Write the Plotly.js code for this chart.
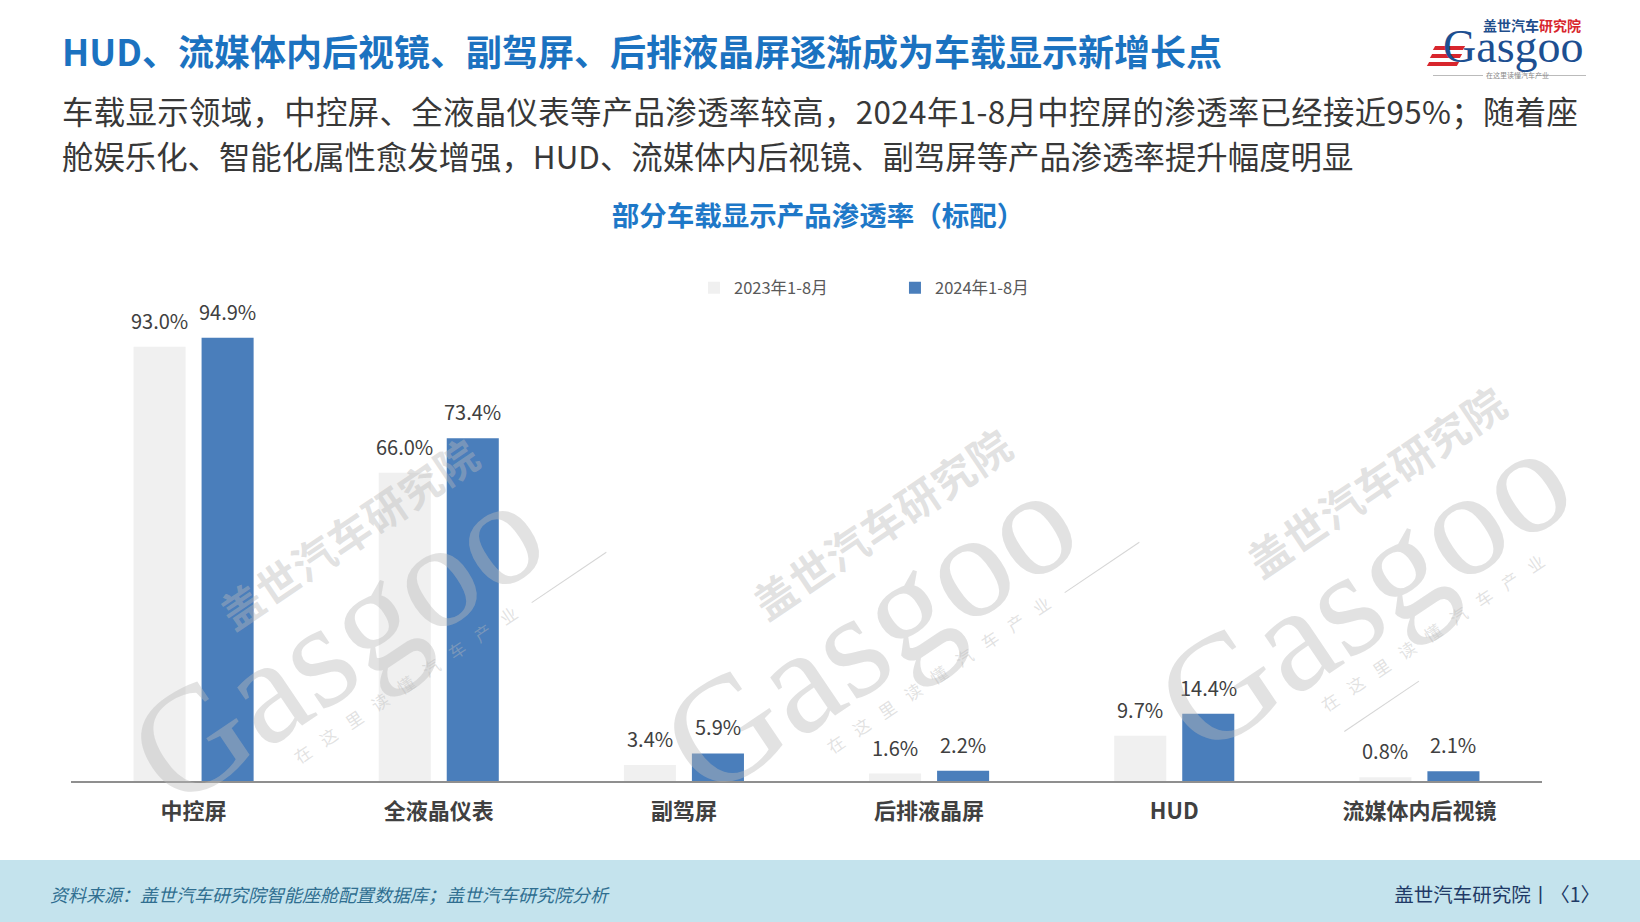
<!DOCTYPE html>
<html><head><meta charset="utf-8">
<script src="https://cdn.plot.ly/plotly-3.0.1.min.js"></script>
<style>
html,body{margin:0;padding:0;background:#fff;width:1640px;height:922px;overflow:hidden;font-family:"Noto Sans CJK SC","Noto Sans",sans-serif;}
#chart{position:absolute;left:0;top:0;width:1640px;height:922px;}
.abs{position:absolute;white-space:nowrap;}
.wm{position:absolute;transform:translate(-50%,-50%) rotate(-34deg);color:rgba(185,185,185,0.42);pointer-events:none;text-align:left;}
.wm .cn{font-family:"Noto Sans CJK SC";font-weight:700;font-size:42px;line-height:46px;padding-left:150px;letter-spacing:1px;}
.wm .en{font-family:"Liberation Serif","DejaVu Serif",serif;font-size:150px;line-height:120px;}
.wm .tg{font-family:"Noto Sans CJK SC";font-size:17px;line-height:30px;letter-spacing:14px;padding-left:130px;}
.wm .tg span{display:inline-block;width:90px;height:0;border-top:1.5px solid rgba(185,185,185,0.6);vertical-align:middle;margin-left:4px;}
</style></head><body>
<div id="chart"></div>

<div class="wm" style="left:350px;top:622px;"><div class="cn">盖世汽车研究院</div><div class="en">Gasgoo</div><div class="tg">在这里读懂汽车产业<span></span></div></div>
<div class="wm" style="left:883px;top:612px;"><div class="cn">盖世汽车研究院</div><div class="en">Gasgoo</div><div class="tg">在这里读懂汽车产业<span></span></div></div>
<div class="wm" style="left:1367px;top:595px;"><div class="cn">盖世汽车研究院</div><div class="en">Gasgoo</div><div class="tg">在这里读懂汽车产业<span></span></div></div>

<div class="abs" style="left:62px;top:28px;font-size:36px;font-weight:700;color:#1b72c0;line-height:44px;">HUD、流媒体内后视镜、副驾屏、后排液晶屏逐渐成为车载显示新增长点</div>
<div class="abs" style="left:62px;top:88px;font-size:31.4px;color:#383838;line-height:45px;letter-spacing:0.36px;">车载显示领域，中控屏、全液晶仪表等产品渗透率较高，2024年1-8月中控屏的渗透率已经接近95%；随着座</div>
<div class="abs" style="left:62px;top:133px;font-size:31.4px;color:#383838;line-height:45px;">舱娱乐化、智能化属性愈发增强，HUD、流媒体内后视镜、副驾屏等产品渗透率提升幅度明显</div>

<!-- logo -->
<div class="abs" style="left:1483px;top:17px;font-size:14px;font-weight:700;line-height:16px;"><span style="color:#1f4e8c">盖世汽车</span><span style="color:#d8262d">研究院</span></div>
<div class="abs" style="left:1434px;top:46px;width:30px;height:4px;background:#d8262d;transform:skewX(-30deg);"></div>
<div class="abs" style="left:1431px;top:54px;width:30px;height:4px;background:#d8262d;transform:skewX(-30deg);"></div>
<div class="abs" style="left:1428px;top:62px;width:30px;height:4px;background:#d8262d;transform:skewX(-30deg);"></div>
<div class="abs" style="left:1443px;top:34px;font-family:'Liberation Serif','DejaVu Serif',serif;font-size:46px;line-height:26px;color:#1d4f91;">Gasgoo</div>
<div class="abs" style="left:1433px;top:75px;width:50px;border-top:1px solid #bbb;"></div>
<div class="abs" style="left:1536px;top:75px;width:50px;border-top:1px solid #bbb;"></div>
<div class="abs" style="left:1486px;top:70px;font-size:7px;line-height:10px;color:#888;">在这里读懂汽车产业</div>

<!-- footer -->
<div class="abs" style="left:0;top:860px;width:1640px;height:62px;background:#c4e3ed;"></div>
<div class="abs" style="left:50px;top:880px;font-size:18px;line-height:28px;font-style:italic;color:#2f6e90;">资料来源：盖世汽车研究院智能座舱配置数据库；盖世汽车研究院分析</div>
<div class="abs" style="right:40px;top:879px;font-size:19.5px;line-height:30px;color:#1f3a66;">盖世汽车研究院丨〈1〉</div>

<script>
var categories = ['中控屏', '全液晶仪表', '副驾屏', '后排液晶屏', 'HUD', '流媒体内后视镜'];
var seriesNames = ['2023年1-8月', '2024年1-8月'];
var values2023 = [93.0, 66.0, 3.4, 1.6, 9.7, 0.8];
var values2024 = [94.9, 73.4, 5.9, 2.2, 14.4, 2.1];
var colors = ['#f0f0f0', '#4a7ebb'];

var FONT = '"Noto Sans CJK SC", "Noto Sans", sans-serif';
var allSeries = [values2023, values2024];

var traces = allSeries.map(function (vals, i) {
  return {
    type: 'bar',
    name: seriesNames[i],
    x: categories,
    y: vals,
    marker: {color: colors[i], line: {width: 0}},
    hoverinfo: 'skip'
  };
});

var annotations = [];
allSeries.forEach(function (vals, i) {
  vals.forEach(function (v, j) {
    annotations.push({
      x: categories[j], y: v, xref: 'x', yref: 'y',
      xshift: i === 0 ? -34 : 34, yshift: 10,
      yanchor: 'bottom', xanchor: 'center',
      text: v.toFixed(1) + '%', showarrow: false,
      font: {family: FONT, size: 20, color: '#404040'}
    });
  });
});

var layout = {
  width: 1640, height: 922,
  margin: {l: 71, r: 98, t: 314, b: 141, pad: 0},
  paper_bgcolor: 'rgba(0,0,0,0)',
  plot_bgcolor: 'rgba(0,0,0,0)',
  barmode: 'group',
  bargap: 0.445,
  bargroupgap: 0.235,
  showlegend: true,
  title: {
    text: '部分车载显示产品渗透率（标配）',
    font: {family: FONT, size: 27.5, color: '#1e78c8', weight: 700},
    x: 818 / 1640, xref: 'container', xanchor: 'center',
    y: 1 - 216 / 922, yref: 'container', yanchor: 'middle'
  },
  legend: {
    orientation: 'h', x: 0.4235, xanchor: 'left', y: 1.0557, yanchor: 'middle',
    font: {family: FONT, size: 16.5, color: '#595959'},
    entrywidth: 156, entrywidthmode: 'pixels',
    bgcolor: 'rgba(0,0,0,0)'
  },
  xaxis: {
    type: 'category',
    showline: true, linecolor: '#8f8f8f', linewidth: 2,
    ticks: '', showgrid: false, zeroline: false,
    tickfont: {family: FONT, size: 22, color: '#404040', weight: 700},
    ticklabelstandoff: 10, fixedrange: true
  },
  yaxis: {
    range: [0, 100], showgrid: false, zeroline: false, showticklabels: false,
    showline: false, ticks: '', fixedrange: true
  },
  annotations: annotations
};

Plotly.newPlot('chart', traces, layout, {staticPlot: true, displayModeBar: false});
</script>
</body></html>
